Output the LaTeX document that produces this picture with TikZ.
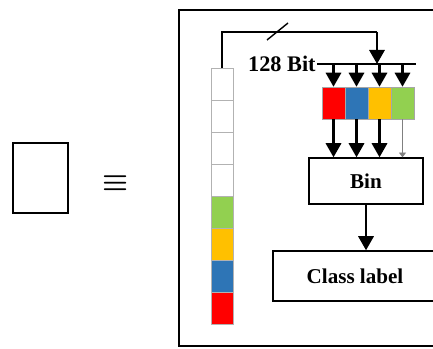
\documentclass[tikz,border=0pt]{standalone}
\usepackage{amsmath,amssymb}
\usepackage{fontspec}
\setmainfont{Liberation Serif}
\usepackage{xcolor}
\usetikzlibrary{arrows.meta}
\definecolor{cellred}{HTML}{FF0000}
\definecolor{cellblue}{HTML}{2E75B6}
\definecolor{cellorange}{HTML}{FFC000}
\definecolor{cellgreen}{HTML}{92D050}
\tikzset{
  bitcell/.style={draw=gray!70,minimum width=0.69cm,minimum height=0.96cm,inner sep=0pt},
  blockbox/.style={draw,line width=1.2pt,inner sep=0pt,font=\fontsize{18}{20}\selectfont\bfseries},
  bigarrow/.style={line width=2.2pt,-{Triangle[length=12pt,width=13pt]}},
}
\begin{document}
\begin{tikzpicture}[x=0.03cm,y=-0.03cm]
\useasboundingbox (0,0) rectangle (433,349);
\clip (0,0) rectangle (433,349);
% left side
\draw[line width=1.4pt] (13,143) rectangle (68,213);
\node (eq) at (116,183) {\fontsize{28}{30}\selectfont$\boldsymbol{\equiv}$};
\draw[line width=1.5pt] (179,10) rectangle (450,346);
% bit column
\foreach \c [count=\i from 0] in {white,white,white,white,cellgreen,cellorange,cellblue,cellred} {
  \fill[\c] (211,68+32*\i) rectangle (233,100+32*\i);
  \draw[gray!60] (211,68+32*\i) rectangle (233,100+32*\i);
}
\coordinate (coltop) at (222,68);
\coordinate (bend) at (377,32);
\coordinate (busL) at (317,64);
\coordinate (busR) at (416,64);
\draw[line width=1.5pt] (busL) -- (busR);
\node[anchor=east,inner sep=1pt,font=\fontsize{19}{21}\selectfont\bfseries] (bits) at (busL) {128 Bit};
\draw[line width=1.5pt] (coltop) -- (coltop |- bend) -- (bend);
\draw[bigarrow] (bend) -- (377,64);
\draw[line width=1.2pt] (267,40) -- (288,23);
% colour cells
\node[bitcell,fill=cellred] (c1) at (333.5,103) {};
\node[bitcell,fill=cellblue] (c2) at (356.5,103) {};
\node[bitcell,fill=cellorange] (c3) at (379.5,103) {};
\node[bitcell,fill=cellgreen] (c4) at (402.5,103) {};
\foreach \n in {c1,c2,c3,c4}
  \draw[bigarrow] (\n.north |- busL) -- (\n.north);
% bin and class label
\node[blockbox,minimum width=3.42cm,minimum height=1.38cm] (bin) at (366,181) {Bin};
\node[blockbox,minimum width=4.92cm,minimum height=1.5cm] (cls) at (355,276) {Class label};
\foreach \n in {c1,c2,c3}
  \draw[bigarrow] (\n.south) -- (\n.south |- bin.north);
\draw[gray,line width=0.6pt,-{Triangle[length=4pt,width=6pt]}] (c4.south) -- (c4.south |- bin.north);
\draw[bigarrow] (bin.south) -- (bin.south |- cls.north);
\end{tikzpicture}
\end{document}
